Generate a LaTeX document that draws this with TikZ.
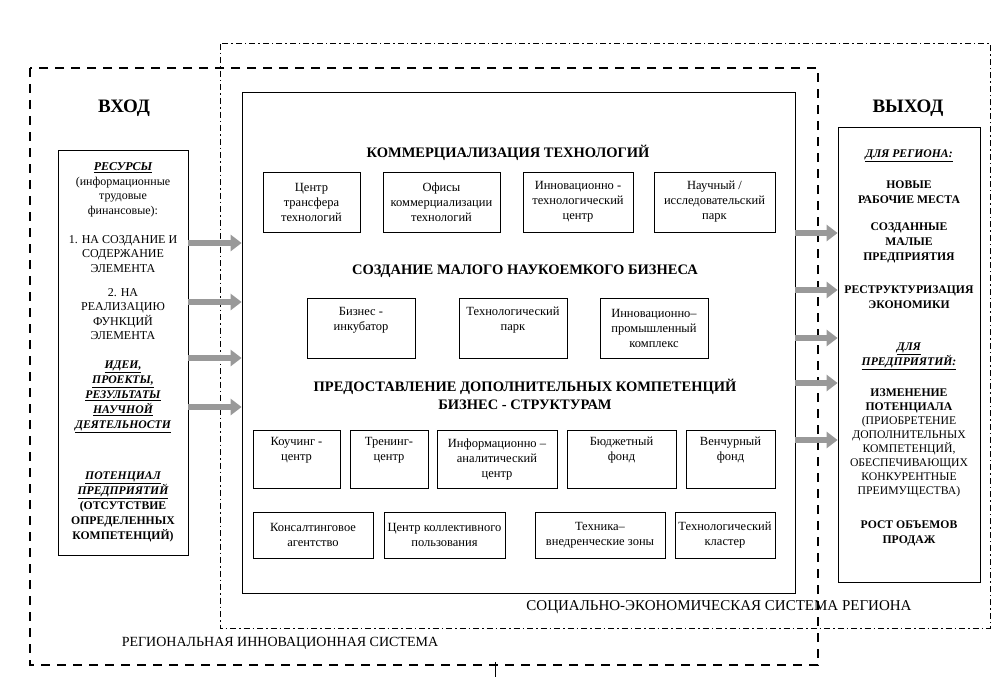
\documentclass[tikz,border=0pt]{standalone}
\usepackage{fontspec}
\setmainfont{Liberation Serif}
\usetikzlibrary{arrows.meta}
\begin{document}
\begin{tikzpicture}[x=1pt,y=-1pt,
  box/.style={draw,thick,inner sep=0pt},
  sm/.style={align=center,font=\fontsize{12.5}{15}\selectfont},
  ttl/.style={font=\bfseries\fontsize{14.5}{18}\selectfont,align=center},
  hd/.style={font=\bfseries\fontsize{19}{22}\selectfont},
  lt/.style={align=center,font=\fontsize{12}{14.5}\selectfont},
  ltb/.style={align=center,font=\bfseries\fontsize{11.7}{15}\selectfont},
  gar/.style={draw=gray!80,line width=6pt,-{Triangle[length=11pt,width=16pt]}}]
\useasboundingbox (0,0) rectangle (1002,677);
\fill[white] (0,0) rectangle (1002,677);
% system boundaries
\draw[line width=1pt,dash pattern=on 6pt off 3pt on 1.5pt off 3pt] (220,44) rectangle (990,628);
\draw[line width=2pt,dash pattern=on 9pt off 7pt] (30,68) rectangle (818,665);
\node (rl) at (280,643) {\fontsize{14}{16}\selectfont РЕГИОНАЛЬНАЯ ИННОВАЦИОННАЯ СИСТЕМА};
\node (sl) at (719,607) {\fontsize{15}{17}\selectfont СОЦИАЛЬНО-ЭКОНОМИЧЕСКАЯ СИСТЕМА РЕГИОНА};
\coordinate (tk1) at (495,662);
\coordinate (tk2) at (495,677);
\draw[thick] (tk1) -- (tk2);
% main boxes
\node[box,fill=white,minimum width=553,minimum height=501] (M) at (518.5,342.5) {};
\node[box,fill=white,minimum width=130,minimum height=405] (L) at (123,352.5) {};
\node[box,fill=white,minimum width=142,minimum height=455] (R) at (909,354.5) {};
\node[hd] (in) at (124,108) {ВХОД};
\node[hd] (out) at (908,108) {ВЫХОД};
% titles
\node[ttl] (t1) at (508,153) {КОММЕРЦИАЛИЗАЦИЯ  ТЕХНОЛОГИЙ};
\node[ttl] (t2) at (525,271) {СОЗДАНИЕ МАЛОГО НАУКОЕМКОГО БИЗНЕСА};
\node[ttl] (t3) at (525,394) {ПРЕДОСТАВЛЕНИЕ ДОПОЛНИТЕЛЬНЫХ КОМПЕТЕНЦИЙ\\БИЗНЕС - СТРУКТУРАМ};
% row 1
\node[box,sm,minimum width=97,minimum height=60] (a1) at (311.5,202) {Центр\\трансфера\\технологий};
\node[box,sm,minimum width=117,minimum height=60] (a2) at (441.5,202) {Офисы\\коммерциализации\\технологий};
\node[box,sm,minimum width=110,minimum height=60] (a3) at (578,202) {Инновационно -\\технологический\\центр};
\node[box,sm,minimum width=121,minimum height=60] (a4) at (714.5,202) {Научный /\\исследовательский\\парк};
% row 2
\node[box,sm,minimum width=108,minimum height=60] (b1) at (361,328) {Бизнес -\\инкубатор\\[4pt]};
\node[box,sm,minimum width=108,minimum height=60] (b2) at (513,328) {Технологический\\парк\\[4pt]};
\node[box,sm,minimum width=108,minimum height=60] (b3) at (654,328) {Инновационно–\\промышленный\\комплекс};
% row 3
\node[box,sm,minimum width=87,minimum height=58] (c1) at (296.5,459) {Коучинг -\\центр\\[6pt]};
\node[box,sm,minimum width=78,minimum height=58] (c2) at (389,459) {Тренинг-\\центр\\[6pt]};
\node[box,sm,minimum width=120,minimum height=58] (c3) at (497,459) {Информационно –\\аналитический\\центр};
\node[box,sm,minimum width=109,minimum height=58] (c4) at (621.5,459) {Бюджетный\\фонд\\[6pt]};
\node[box,sm,minimum width=89,minimum height=58] (c5) at (730.5,459) {Венчурный\\фонд\\[6pt]};
% row 4
\node[box,sm,minimum width=120,minimum height=46] (d1) at (313,535) {Консалтинговое\\агентство};
\node[box,sm,minimum width=121,minimum height=46] (d2) at (444.5,535) {Центр коллективного\\пользования};
\node[box,sm,minimum width=130,minimum height=46] (d3) at (600,535) {Техника–\\внедренческие зоны};
\node[box,sm,minimum width=100,minimum height=46] (d4) at (725,535) {Технологический\\кластер};
% left texts
\node[lt] (l1) at (123,190) {\textbf{\textit{\underline{РЕСУРСЫ}}}\\(информационные\\трудовые\\финансовые):};
\node[lt] (l2) at (123,254) {1. НА СОЗДАНИЕ И\\СОДЕРЖАНИЕ\\ЭЛЕМЕНТА};
\node[lt] (l3) at (123,314) {2. НА\\РЕАЛИЗАЦИЮ\\ФУНКЦИЙ\\ЭЛЕМЕНТА};
\node[ltb] (l4) at (123,397) {\textit{\underline{ИДЕИ,}}\\\textit{\underline{ПРОЕКТЫ,}}\\\textit{\underline{РЕЗУЛЬТАТЫ}}\\\textit{\underline{НАУЧНОЙ}}\\\textit{\underline{ДЕЯТЕЛЬНОСТИ}}};
\node[ltb] (l5) at (123,507) {\textit{\underline{ПОТЕНЦИАЛ}}\\\textit{\underline{ПРЕДПРИЯТИЙ}}\\(ОТСУТСТВИЕ\\ОПРЕДЕЛЕННЫХ\\КОМПЕТЕНЦИЙ)};
% right texts
\node[ltb] (r1) at (909,156) {\textit{\underline{ДЛЯ РЕГИОНА:}}};
\node[ltb] (r2) at (909,192) {НОВЫЕ\\РАБОЧИЕ МЕСТА};
\node[ltb] (r3) at (909,243) {СОЗДАННЫЕ\\МАЛЫЕ\\ПРЕДПРИЯТИЯ};
\node[ltb] (r4) at (909,297) {РЕСТРУКТУРИЗАЦИЯ\\ЭКОНОМИКИ};
\node[ltb] (r5) at (909,356) {\textit{\underline{ДЛЯ}}\\\textit{\underline{ПРЕДПРИЯТИЙ:}}};
\node[lt,font=\fontsize{11.7}{14}\selectfont] (r6) at (909,443) {\textbf{ИЗМЕНЕНИЕ}\\\textbf{ПОТЕНЦИАЛА}\\(ПРИОБРЕТЕНИЕ\\ДОПОЛНИТЕЛЬНЫХ\\КОМПЕТЕНЦИЙ,\\ОБЕСПЕЧИВАЮЩИХ\\КОНКУРЕНТНЫЕ\\ПРЕИМУЩЕСТВА)};
\node[ltb] (r7) at (909,533) {РОСТ ОБЪЕМОВ\\ПРОДАЖ};
% arrows
\foreach \y [count=\i] in {243,302,358,407}{
  \coordinate (ly\i) at (0,\y);
  \draw[gar] (L.east|-ly\i) -- (M.west|-ly\i);
}
\foreach \y [count=\i] in {233,290,338,383,440}{
  \coordinate (ry\i) at (0,\y);
  \draw[gar] (M.east|-ry\i) -- (R.west|-ry\i);
}
\end{tikzpicture}
\end{document}
